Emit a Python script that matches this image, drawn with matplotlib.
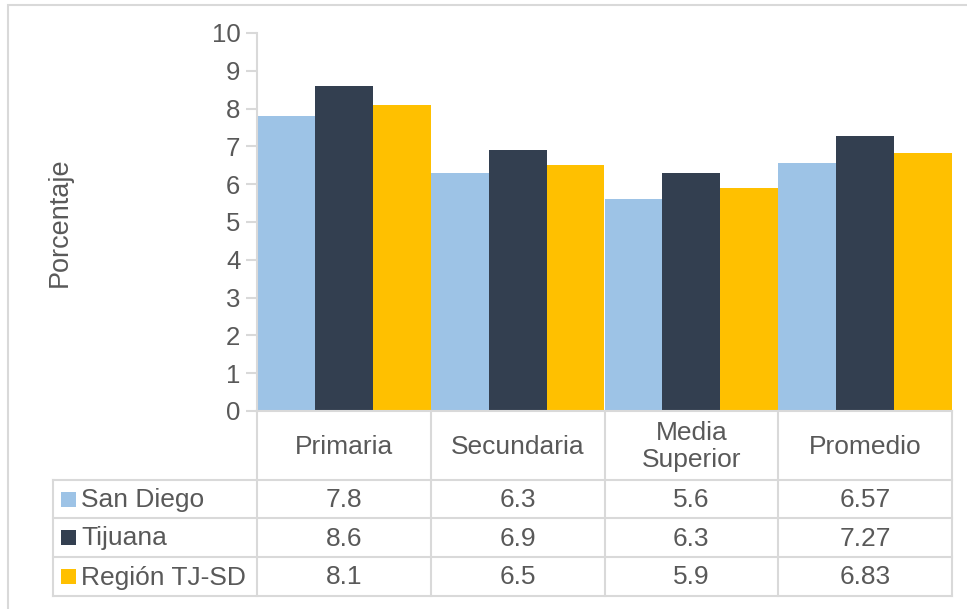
import numpy as np
import matplotlib
matplotlib.use("Agg")
import matplotlib.pyplot as plt
from matplotlib.lines import Line2D
from matplotlib.patches import Rectangle

plt.rcParams['font.family'] = ['Liberation Sans', 'DejaVu Sans']

# data
categories = ["Primaria", "Secundaria", "Media\nSuperior", "Promedio"]
series_names = ["San Diego", "Tijuana", "Región TJ-SD"]
san_diego = [7.8, 6.3, 5.6, 6.57]
tijuana = [8.6, 6.9, 6.3, 7.27]
region = [8.1, 6.5, 5.9, 6.83]
yticks = list(range(0, 11))

colors = ["#9dc3e6", "#333f50", "#ffc000"]
text_col = "#595959"
grid_col = "#d9d9d9"
fs = 19
fs_tick = 18.5

W, H = 967, 609
fig = plt.figure(figsize=(W / 100, H / 100), dpi=100)


def fx(px):
    return px / W


def fy(py):
    return 1 - py / H


# pixel layout
ax_l, ax_r, ax_t, ax_b = 257, 952, 33, 411
tab_l = 53
row_y = [411, 480, 518, 557, 596]

ax = fig.add_axes([fx(ax_l), fy(ax_b), fx(ax_r) - fx(ax_l), fy(ax_t) - fy(ax_b)])
x = np.arange(len(categories))
w = 1 / 3
for i, (vals, c) in enumerate(zip([san_diego, tijuana, region], colors)):
    ax.bar(x + (i - 1) * w, vals, width=w, color=c, linewidth=0)

ax.set_xlim(-0.5, len(categories) - 0.5)
ax.set_ylim(0, 10)
ax.set_yticks(yticks)
ax.set_yticklabels([str(t) for t in yticks])
ax.set_xticks([])
for s in ["top", "right", "bottom"]:
    ax.spines[s].set_visible(False)
ax.spines["left"].set_color(grid_col)
ax.spines["left"].set_linewidth(1.5)
ax.tick_params(axis="y", colors=grid_col, labelcolor=text_col, labelsize=fs_tick,
               length=8, width=1.5, pad=4)

# axis title
fig.text(fx(60), fy(222), "Porcentaje", rotation=90, ha="center", va="center",
         color=text_col, fontsize=19.5)

# outer chart frame
fig.add_artist(Rectangle((fx(8), fy(620)), fx(980) - fx(8), fy(5) - fy(620),
                         fill=False, edgecolor=grid_col, linewidth=1.5))

# data table
col_edges = [ax_l + (ax_r - ax_l) * k / len(categories) for k in range(len(categories) + 1)]


def hline(y, x0, x1):
    fig.add_artist(Line2D([fx(x0), fx(x1)], [fy(y), fy(y)], color=grid_col, lw=1.5))


def vline(xp, y0, y1):
    fig.add_artist(Line2D([fx(xp), fx(xp)], [fy(y0), fy(y1)], color=grid_col, lw=1.5))


hline(row_y[0], ax_l, ax_r)
for y in row_y[1:]:
    hline(y, tab_l, ax_r)
for xp in col_edges:
    vline(xp, row_y[0], row_y[-1])
vline(tab_l, row_y[1], row_y[-1])

for k, cat in enumerate(categories):
    cx = (col_edges[k] + col_edges[k + 1]) / 2
    fig.text(fx(cx), fy((row_y[0] + row_y[1]) / 2 + 1), cat, ha="center", va="center",
             color=text_col, fontsize=fs, linespacing=1.15)

for r, (name, vals, c) in enumerate(zip(series_names, [san_diego, tijuana, region], colors)):
    cy = (row_y[r + 1] + row_y[r + 2]) / 2
    fig.add_artist(Rectangle((fx(61), fy(cy + 7.5)), fx(15), 15 / H, color=c, linewidth=0))
    fig.text(fx(81), fy(cy + 1), name, ha="left", va="center", color=text_col, fontsize=fs)
    for k, v in enumerate(vals):
        cx = (col_edges[k] + col_edges[k + 1]) / 2
        fig.text(fx(cx), fy(cy + 1), f"{v:g}", ha="center", va="center",
                 color=text_col, fontsize=fs)

fig.savefig("out.png", dpi=100)
